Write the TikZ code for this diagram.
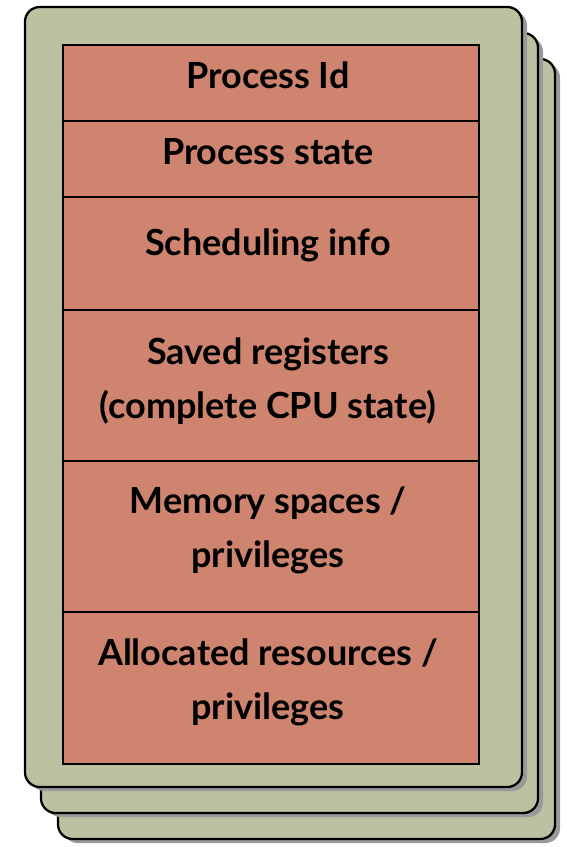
\documentclass[tikz,border=0pt]{standalone}
\usepackage{fontspec}
\setmainfont{Lato}
\definecolor{cardgreen}{RGB}{190,192,162}
\definecolor{fieldred}{RGB}{206,132,110}
\def\tblleft{63}
\def\tblright{479}

\begin{document}
\begin{tikzpicture}[x=0.75pt, y=-0.75pt,
  card/.style={draw=black, line width=1.7pt, fill=cardgreen, rounded corners=11pt},
  cardshadow/.style={fill=black!40, rounded corners=11pt},
  field/.style={draw=black, line width=1.5pt, fill=fieldred},
  fieldtext/.style={font=\bfseries\fontsize{27}{40.5}\selectfont, align=center}]
\useasboundingbox (0,0) rectangle (567,847);

% stacked cards, back one first
\foreach \dx/\dy in {33/52, 16/26, 0/0} {
  \fill[cardshadow] (25+\dx+5,7+\dy+4) rectangle (522+\dx+5,787+\dy+4);
  \draw[card] (25+\dx,7+\dy) rectangle (522+\dx,787+\dy);
}

% the fields of the block
\foreach \top/\bot in {45/121, 121/197, 197/310, 310/461, 461/612, 612/764}
  \draw[field] (\tblleft,\top) rectangle (\tblright,\bot);

\node[fieldtext] (pid)   at (268,75)  {Process Id};
\node[fieldtext] (state) at (268,152) {Process state};
\node[fieldtext] (sched) at (268,245) {Scheduling info};
\node[fieldtext] (regs)  at (268,381) {Saved registers\\(complete CPU state)};
\node[fieldtext] (mem)   at (268,530) {Memory spaces /\\privileges};
\node[fieldtext] (res)   at (268,682) {Allocated resources /\\privileges};
\end{tikzpicture}
\end{document}
